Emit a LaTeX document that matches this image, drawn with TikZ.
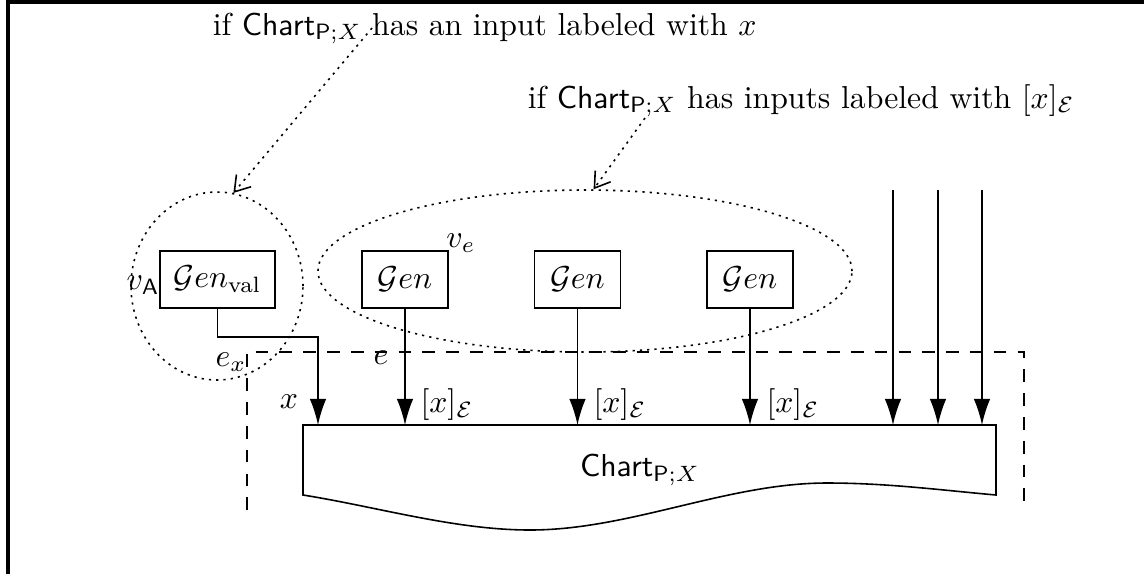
\documentclass[tikz,border=0pt]{standalone}
\usepackage{amsmath}
\usetikzlibrary{arrows.meta,shapes.geometric}
\begin{document}
\begin{tikzpicture}[x=0.315pt,y=-0.315pt, line width=0.5pt,
  genbox/.style={draw, inner sep=0pt, minimum height=18pt},
  arr/.style={-{Latex[length=8.2pt,width=5.2pt]}},
  dotpat/.style={dash pattern=on 0.7pt off 1.6pt},
  dotarr/.style={dotpat, -{Straight Barb[length=4.6pt,width=6pt]}},
  dotell/.style={draw, dotpat, ellipse, inner sep=0pt},
  dashframe/.style={dash pattern=on 4pt off 3.5pt},
  lbl/.style={inner sep=0pt}]
\useasboundingbox (0,0) rectangle (1144,574);
% outer frame
\draw[line width=1pt] (8,574) -- (8,2) -- (1144,2);
% texts
\node[lbl, anchor=base west] (t1) at (212,35) {if $\mathsf{Chart}_{\mathsf{P};X}$ has an input labeled with $x$};
\node[lbl, anchor=base west] (t2) at (527,108) {if $\mathsf{Chart}_{\mathsf{P};X}$ has inputs labeled with $[x]_{\mathcal{E}}$};
\coordinate (s1) at (372,28);
\coordinate (s2) at (645,118);
% ellipses
\node[dotell, minimum width=172*0.315pt, minimum height=188*0.315pt] (cA) at (217,286) {};
\node[dotell, minimum width=534*0.315pt, minimum height=162*0.315pt] (cE) at (585,271) {};
\draw[dotarr] (s1) -- (cA.80);
\draw[dotarr] (s2) -- (cE.84);
% generator boxes
\node[genbox, minimum width=115*0.315pt] (gv) at (217.5,279.5) {$\mathcal{G}en_{\mathrm{val}}$};
\node[genbox, minimum width=86*0.315pt] (g1) at (405,279.5) {$\mathcal{G}en$};
\node[genbox, minimum width=86*0.315pt] (g2) at (577.5,279.5) {$\mathcal{G}en$};
\node[genbox, minimum width=86*0.315pt] (g3) at (750,279.5) {$\mathcal{G}en$};
\node[lbl] (vA) at (143,285) {$v_{\mathsf{A}}$};
\node[lbl] (ve) at (461,243) {$v_e$};
% dashed region
\draw[dashframe] (247,510) -- (247,352) -- (1024,352) -- (1024,510);
\node[lbl] (ex) at (231,362) {$e_x$};
\node[lbl] (el) at (381,358) {$e$};
% chart
\coordinate (ctl) at (303,425);
\coordinate (ctr) at (996,425);
\draw (ctl) -- (ctr) -- (996,495)
  .. controls (940,490) and (887,483) .. (827,483)
  .. controls (727,483) and (630,530) .. (530,530)
  .. controls (455,530) and (378,507) .. (303,495) -- cycle;
\node[lbl] (chart) at (640,470) {$\mathsf{Chart}_{\mathsf{P};X}$};
% connectors
\coordinate (bend) at (318,337);
\draw[arr] (gv.south) |- (bend) -- (bend |- ctl);
\draw[arr] (g1.south) -- (g1.south |- ctl);
\draw[arr] (g2.south) -- (g2.south |- ctl);
\draw[arr] (g3.south) -- (g3.south |- ctl);
\coordinate (i1) at (893,190);
\coordinate (i2) at (938,190);
\coordinate (i3) at (982,190);
\draw[arr] (i1) -- (i1 |- ctl);
\draw[arr] (i2) -- (i2 |- ctl);
\draw[arr] (i3) -- (i3 |- ctl);
% edge labels
\node[lbl] (lx) at (289,402) {$x$};
\node[lbl] (l1) at (447,405) {$[x]_{\mathcal{E}}$};
\node[lbl] (l2) at (620,405) {$[x]_{\mathcal{E}}$};
\node[lbl] (l3) at (793,405) {$[x]_{\mathcal{E}}$};
\end{tikzpicture}
\end{document}
